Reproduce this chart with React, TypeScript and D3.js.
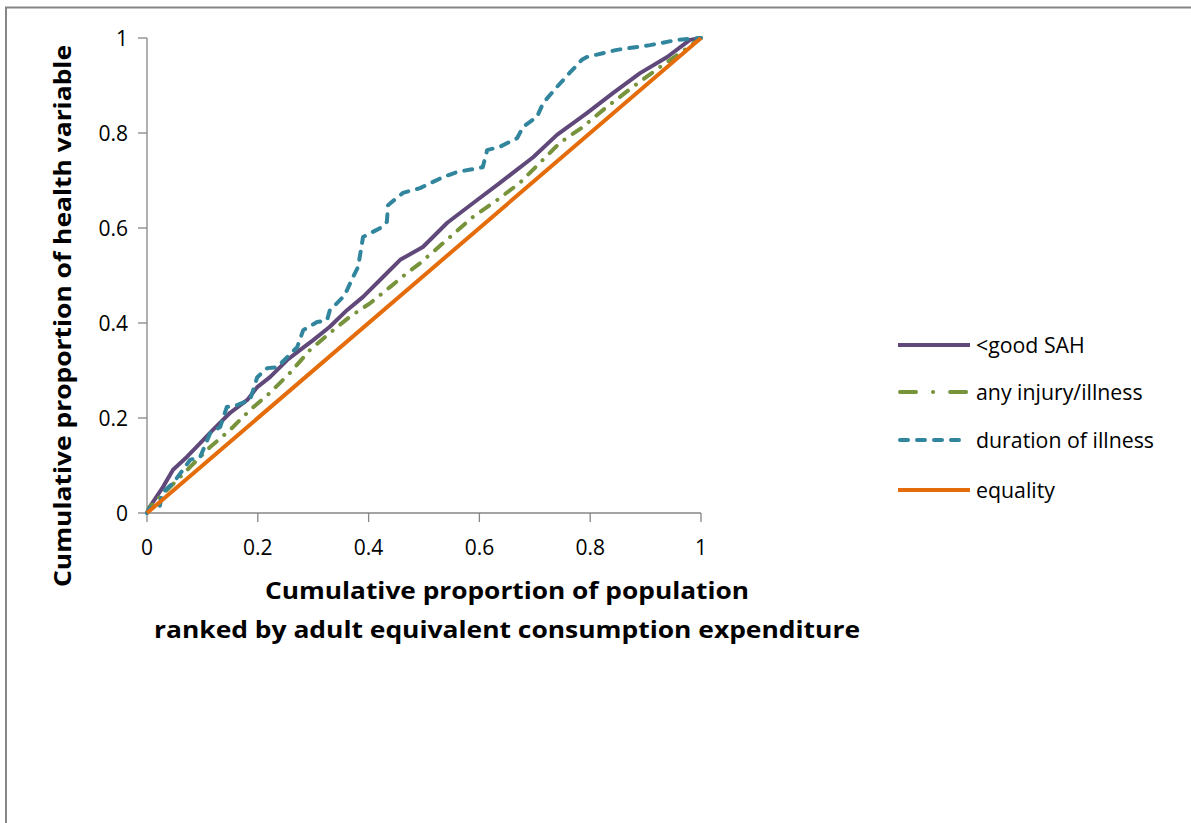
import React from 'react';
import * as d3 from 'd3';

type Pt = [number, number];

// cumulative share of population (x) vs cumulative share of health variable (y)
const goodSAH: Pt[] = [
  [0, 0], [0.005, 0.013], [0.029, 0.055], [0.047, 0.091], [0.072, 0.118], [0.096, 0.147],
  [0.119, 0.175], [0.15, 0.211], [0.181, 0.238], [0.199, 0.265], [0.222, 0.286], [0.253, 0.322],
  [0.276, 0.343], [0.3, 0.364], [0.33, 0.392], [0.361, 0.427], [0.39, 0.455], [0.421, 0.491],
  [0.457, 0.533], [0.498, 0.56], [0.542, 0.611], [0.596, 0.659], [0.637, 0.695], [0.697, 0.749],
  [0.74, 0.796], [0.794, 0.842], [0.841, 0.884], [0.89, 0.926], [0.939, 0.96], [0.98, 0.996], [1, 1],
];

const anyInjury: Pt[] = [
  [0, 0], [0.005, 0.013], [0.042, 0.055], [0.078, 0.097], [0.114, 0.139], [0.15, 0.175],
  [0.186, 0.217], [0.222, 0.253], [0.258, 0.295], [0.294, 0.343], [0.33, 0.379], [0.366, 0.413],
  [0.403, 0.442], [0.439, 0.476], [0.469, 0.505], [0.493, 0.526], [0.547, 0.581], [0.588, 0.623],
  [0.632, 0.659], [0.673, 0.695], [0.709, 0.737], [0.745, 0.779], [0.787, 0.813], [0.83, 0.855],
  [0.877, 0.897], [0.926, 0.939], [0.962, 0.968], [1, 1],
];

const durationIllness: Pt[] = [
  [0, 0], [0.005, 0.011], [0.023, 0.013], [0.027, 0.042], [0.047, 0.063], [0.065, 0.091],
  [0.078, 0.112], [0.096, 0.118], [0.114, 0.168], [0.132, 0.181], [0.144, 0.223], [0.162, 0.227],
  [0.186, 0.238], [0.199, 0.286], [0.217, 0.305], [0.235, 0.307], [0.253, 0.328], [0.271, 0.349],
  [0.282, 0.385], [0.307, 0.402], [0.325, 0.406], [0.33, 0.427], [0.343, 0.442], [0.354, 0.455],
  [0.361, 0.469], [0.372, 0.497], [0.381, 0.518], [0.39, 0.581], [0.421, 0.6], [0.433, 0.613],
  [0.435, 0.648], [0.462, 0.674], [0.493, 0.684], [0.534, 0.707], [0.56, 0.718], [0.606, 0.728],
  [0.614, 0.764], [0.637, 0.771], [0.668, 0.789], [0.679, 0.813], [0.704, 0.834], [0.715, 0.863],
  [0.74, 0.897], [0.764, 0.928], [0.785, 0.954], [0.794, 0.96], [0.848, 0.975], [0.908, 0.985],
  [0.957, 0.996], [1, 1],
];

const equality: Pt[] = [[0, 0], [1, 1]];

const ticks = [0, 0.2, 0.4, 0.6, 0.8, 1];

const seriesList = [
  { name: '<good SAH', data: goodSAH, color: '#60497a', dash: undefined as string | undefined },
  { name: 'any injury/illness', data: anyInjury, color: '#77933c', dash: '10,10,0.1,10' },
  { name: 'duration of illness', data: durationIllness, color: '#31859c', dash: '8,9' },
  { name: 'equality', data: equality, color: '#e46c0a', dash: undefined as string | undefined },
];

const FONT = "'Open Sans', sans-serif";

export default function App() {
  const left = 147, right = 701, top = 38, bottom = 513;
  const x = d3.scaleLinear().domain([0, 1]).range([left, right]);
  const y = d3.scaleLinear().domain([0, 1]).range([bottom, top]);
  const line = d3.line<Pt>().x(d => x(d[0])).y(d => y(d[1]));
  const fmt = (v: number) => (v === 0 || v === 1 ? String(v) : v.toFixed(1));

  return (
    <svg width={1191} height={823} style={{ position: 'absolute', left: 0, top: 0 }}>
      <rect x={0} y={0} width={1191} height={823} fill="#fff" />
      {/* chart frame */}
      <rect x={6} y={7.5} width={1200} height={840} fill="none" stroke="#868686" strokeWidth={2} />

      {/* axes */}
      <line x1={left} x2={left} y1={top} y2={bottom} stroke="#868686" strokeWidth={1.3} />
      <line x1={left} x2={right} y1={bottom} y2={bottom} stroke="#868686" strokeWidth={1.3} />
      {ticks.map(t => (
        <g key={'y' + t}>
          <line x1={left - 9} x2={left} y1={y(t)} y2={y(t)} stroke="#868686" strokeWidth={1.3} />
          <text x={128} y={y(t)} dy="0.36em" textAnchor="end" fontFamily={FONT} fontSize={21} fill="#000">
            {fmt(t)}
          </text>
        </g>
      ))}
      {ticks.map(t => (
        <g key={'x' + t}>
          <line x1={x(t)} x2={x(t)} y1={bottom} y2={bottom + 9} stroke="#868686" strokeWidth={1.3} />
          <text x={x(t)} y={555} textAnchor="middle" fontFamily={FONT} fontSize={21} fill="#000">
            {fmt(t)}
          </text>
        </g>
      ))}

      {/* series */}
      {seriesList.map(s => (
        <path
          key={s.name}
          d={line(s.data) || ''}
          fill="none"
          stroke={s.color}
          strokeWidth={4}
          strokeDasharray={s.dash}
          strokeLinecap={s.dash ? 'round' : 'butt'}
          strokeLinejoin="round"
        />
      ))}

      {/* axis titles */}
      <text x={507} y={599} textAnchor="middle" fontFamily={FONT} fontWeight="bold" fontSize={23.5}
        textLength={484} lengthAdjust="spacingAndGlyphs" fill="#000">
        Cumulative proportion of population
      </text>
      <text x={507} y={638} textAnchor="middle" fontFamily={FONT} fontWeight="bold" fontSize={23.5}
        textLength={706} lengthAdjust="spacingAndGlyphs" fill="#000">
        ranked by adult equivalent consumption expenditure
      </text>
      <text
        transform="translate(71,316) rotate(-90)"
        textAnchor="middle"
        fontFamily={FONT}
        fontWeight="bold"
        fontSize={23.5}
        textLength={542}
        lengthAdjust="spacingAndGlyphs"
        fill="#000"
      >
        Cumulative proportion of health variable
      </text>

      {/* legend */}
      {seriesList.map((s, i) => {
        const ly = [345, 392, 440, 490][i];
        return (
          <g key={'lg' + s.name}>
            <line
              x1={s.dash ? 900 : 898}
              x2={s.dash ? 968 : 970}
              y1={ly}
              y2={ly}
              stroke={s.color}
              strokeWidth={4}
              strokeDasharray={s.dash === '10,10,0.1,10' ? '16,17,0.1,17' : s.dash}
              strokeLinecap={s.dash ? 'round' : 'butt'}
            />
            <text x={976} y={ly} dy="0.36em" fontFamily={FONT} fontSize={21.3} fill="#000">
              {s.name}
            </text>
          </g>
        );
      })}
    </svg>
  );
}
